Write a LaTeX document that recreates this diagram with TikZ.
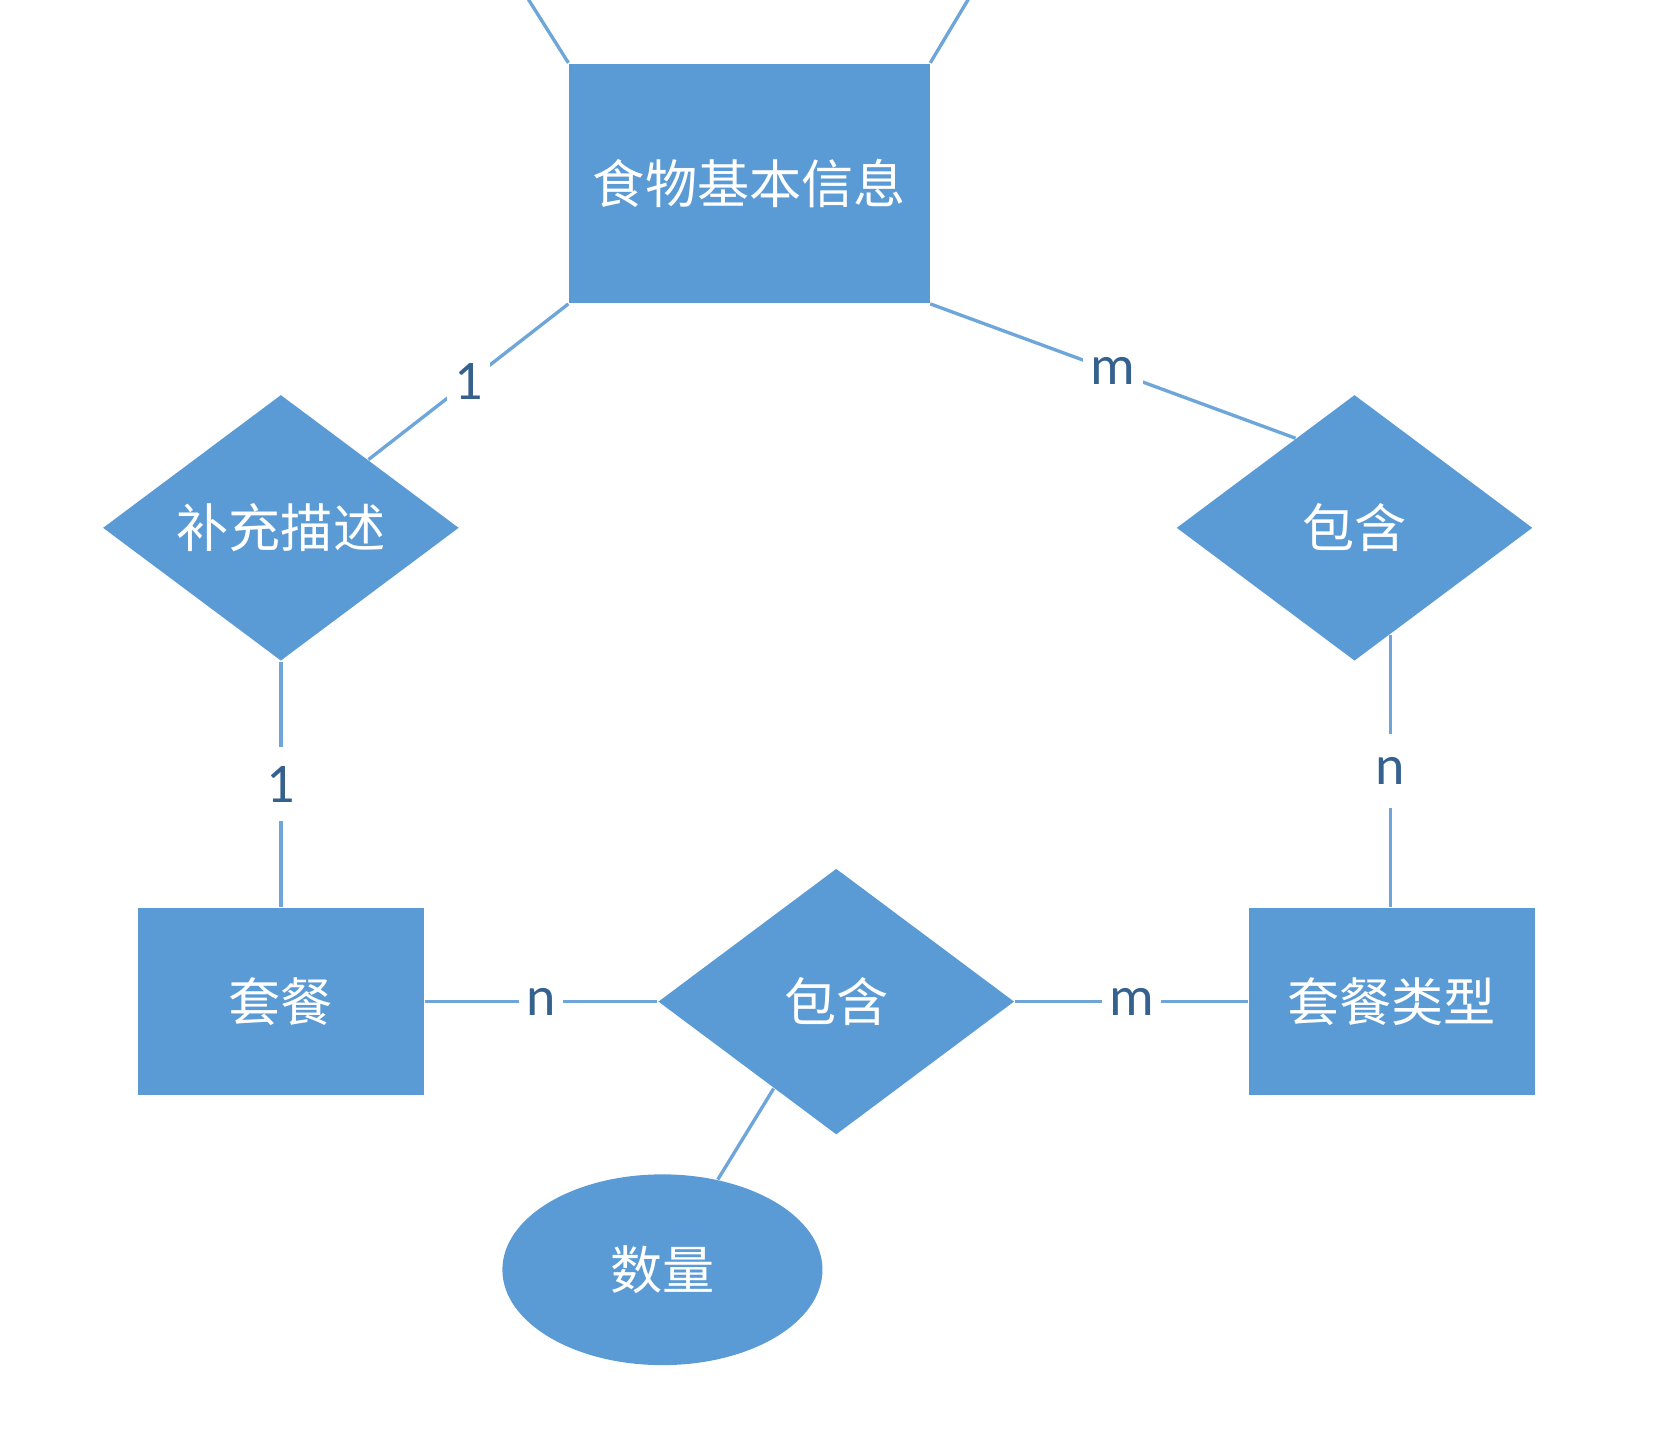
\documentclass[tikz,border=0pt]{standalone}
\usepackage{fontspec}
\setmainfont{Carlito}
\newfontfamily\cjk{Noto Sans CJK SC}
\usepackage{tikz}
\usetikzlibrary{shapes,calc,positioning}
\usepackage{xcolor}
\definecolor{erblue}{HTML}{5B9BD5}
\definecolor{erline}{HTML}{6FA6DA}
\definecolor{erlabel}{HTML}{35618F}
\tikzset{
  entity/.style={rectangle, fill=erblue, text=white, inner sep=0pt,
    font=\cjk\fontsize{14}{16}\selectfont},
  relation/.style={diamond, fill=erblue, text=white, inner sep=0pt,
    minimum width=3.36cm, minimum height=2.51cm,
    font=\cjk\fontsize{14}{16}\selectfont},
  attr/.style={ellipse, fill=erblue, text=white, inner sep=0pt,
    minimum width=3.02cm, minimum height=1.80cm,
    font=\cjk\fontsize{14}{16}\selectfont},
  link/.style={draw=erline, line width=0.9pt},
  card/.style={fill=white, text=erlabel, inner xsep=2pt, inner ysep=0pt,
    minimum height=0.7cm, font=\fontsize{15}{16}\selectfont}
}

\begin{document}
\begin{tikzpicture}
  \useasboundingbox (0,0) rectangle (15.70,-13.585);

  % entities
  \node[entity, minimum width=3.40cm, minimum height=2.26cm] (food) at (7.07,-1.73) {食物基本信息};
  \node[entity, minimum width=2.70cm, minimum height=1.77cm] (meal) at (2.65,-9.45) {套餐};
  \node[entity, minimum width=2.70cm, minimum height=1.77cm] (type) at (13.13,-9.45) {套餐类型};

  % relations
  \node[relation] (desc) at (2.65,-4.98) {补充描述};
  \node[relation] (contR) at (12.78,-4.98) {包含};
  \node[relation] (contB) at (7.89,-9.45) {包含};

  % attribute
  \node[attr] (qty) at (6.25,-11.98) {数量};

  % points on the diamond edges
  \coordinate (cF) at ($(contR.north)!0.33!(contR.west)$);
  \coordinate (cR) at ($(contR.south)!0.2!(contR.east)$);
  \coordinate (cRb) at (cR |- type.north);
  \coordinate (cB) at ($(contB.west)!0.65!(contB.south)$);
  \coordinate (offL) at (4.97,0.03);
  \coordinate (offR) at (9.15,0.03);

  % connectors with cardinalities
  \foreach \from/\to/\card in {food.south west/desc/1, food.south east/cF/m,
      desc.south/meal.north/1, cR/cRb/n, meal/contB/n, contB/type/m}
    \draw[link] (\from) -- node[card] {\card} (\to);

  \draw[link] (qty) -- (cB);
  \draw[link] (food.north west) -- (offL);
  \draw[link] (food.north east) -- (offR);
\end{tikzpicture}
\end{document}
